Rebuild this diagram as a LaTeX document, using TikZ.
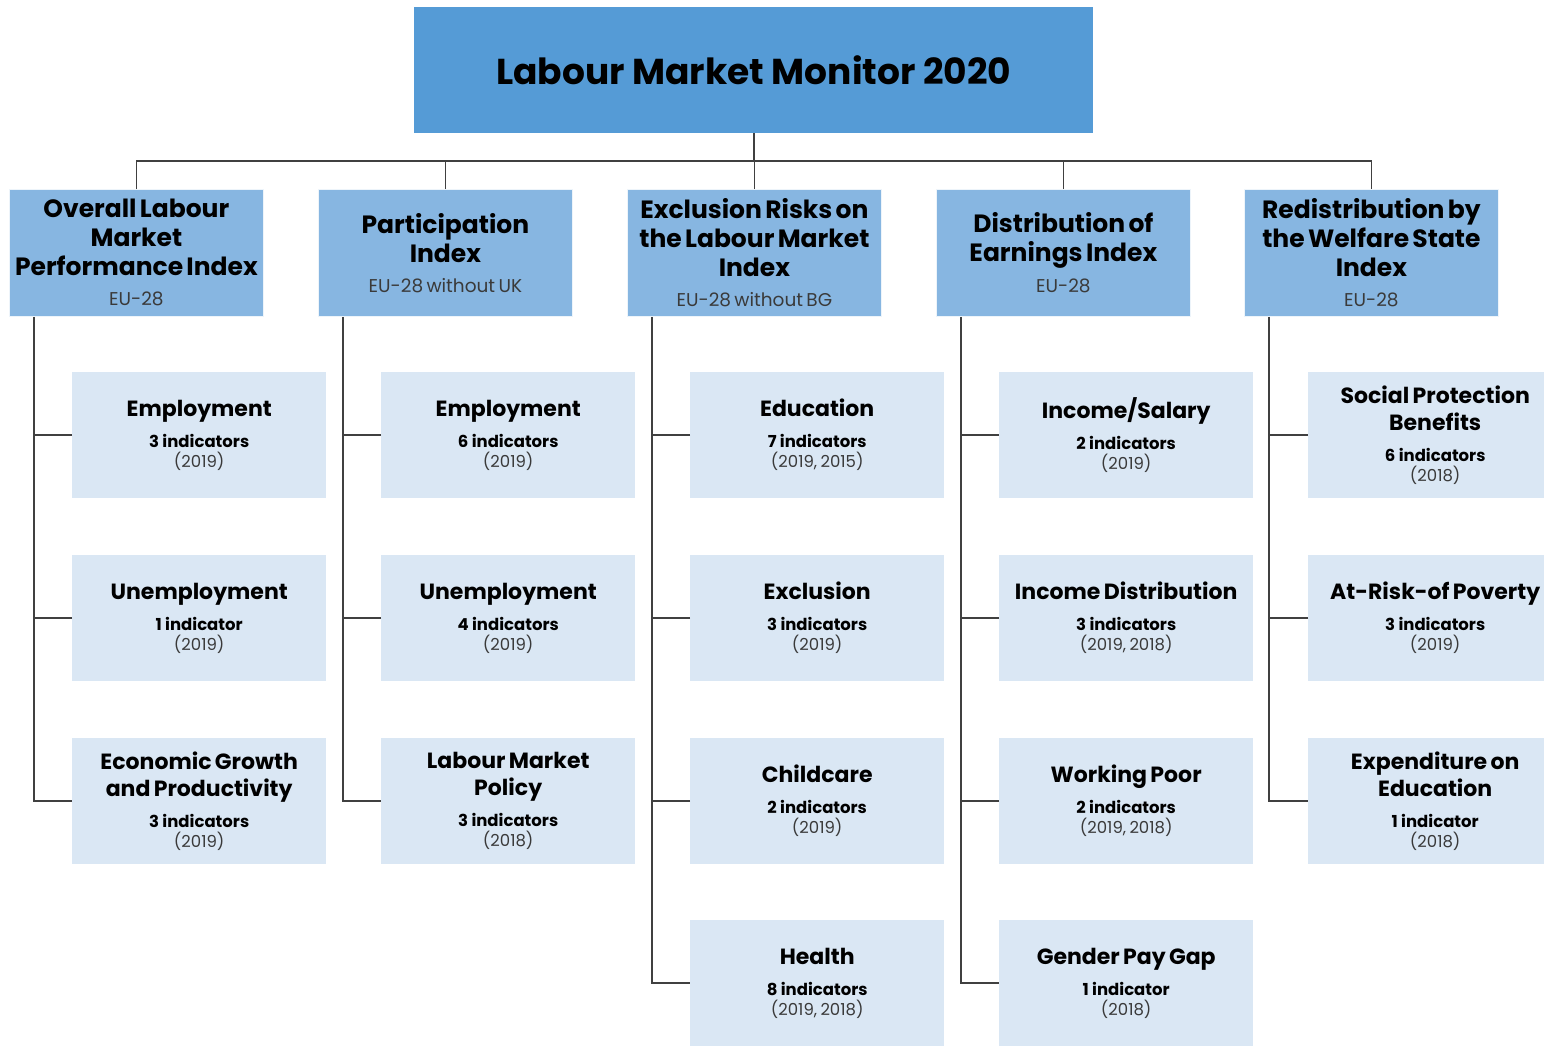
\documentclass[tikz,border=0pt]{standalone}
\usepackage{fontspec}
\setmainfont{Poppins}
\definecolor{topc}{HTML}{559BD6}
\definecolor{idxc}{HTML}{87B6E1}
\definecolor{subc}{HTML}{DAE7F4}
\definecolor{linec}{HTML}{404040}
\definecolor{greyt}{HTML}{3A3A3A}
\newcommand\idxtext[2]{{\fontsize{25}{29}\selectfont\bfseries #1\par}\vspace{10pt}{\fontsize{18.5}{20}\selectfont\color{greyt}#2\par}}
\newcommand\subtext[3]{{\fontsize{22}{27}\selectfont\bfseries #1\par}\vspace{8pt}{\fontsize{16.5}{23}\selectfont\bfseries #2\par}{\fontsize{16.5}{20}\selectfont\color{greyt}#3\par}}
\begin{document}
\begin{tikzpicture}[x=1pt,y=-1pt,
  topbox/.style={fill=topc,minimum width=679pt,minimum height=126pt,inner sep=0pt,anchor=north west,font=\fontsize{36}{40}\selectfont\bfseries},
  idxbox/.style={fill=idxc,draw=white!85!idxc,line width=0.8pt,minimum width=254pt,minimum height=127pt,inner sep=0pt,anchor=north west,text width=252pt,align=center},
  subbox/.style={fill=subc,minimum width=254pt,minimum height=126pt,inner sep=0pt,anchor=north west,text width=250pt,align=center},
  conn/.style={draw=linec,line width=1.6pt}]
\useasboundingbox (0,0) rectangle (1544,1045);
\clip (0,0) rectangle (1544,1045);
\node[topbox] (top) at (414,7) {Labour Market Monitor 2020};
\node[idxbox] (i1) at (9,189) {\idxtext{Overall Labour\\Market\\Performance Index}{EU-28}};
\node[idxbox] (i2) at (318,189) {\idxtext{Participation\\Index}{EU-28 without UK}};
\node[idxbox] (i3) at (627,189) {\idxtext{Exclusion Risks on\\the Labour Market\\Index}{EU-28 without BG}};
\node[idxbox] (i4) at (936,189) {\idxtext{Distribution of\\Earnings Index}{EU-28}};
\node[idxbox] (i5) at (1244,189) {\idxtext{Redistribution by\\the Welfare State\\Index}{EU-28}};
% children column 1
\node[subbox] (c11) at (72,372) {\subtext{Employment}{3 indicators}{(2019)}};
\node[subbox] (c12) at (72,555) {\subtext{Unemployment}{1 indicator}{(2019)}};
\node[subbox] (c13) at (72,738) {\subtext{Economic Growth\\and Productivity}{3 indicators}{(2019)}};
% column 2
\node[subbox] (c21) at (381,372) {\subtext{Employment}{6 indicators}{(2019)}};
\node[subbox] (c22) at (381,555) {\subtext{Unemployment}{4 indicators}{(2019)}};
\node[subbox] (c23) at (381,738) {\subtext{Labour Market\\Policy}{3 indicators}{(2018)}};
% column 3
\node[subbox] (c31) at (690,372) {\subtext{Education}{7 indicators}{(2019, 2015)}};
\node[subbox] (c32) at (690,555) {\subtext{Exclusion}{3 indicators}{(2019)}};
\node[subbox] (c33) at (690,738) {\subtext{Childcare}{2 indicators}{(2019)}};
\node[subbox] (c34) at (690,920) {\subtext{Health}{8 indicators}{(2019, 2018)}};
% column 4
\node[subbox] (c41) at (999,372) {\subtext{Income/Salary}{2 indicators}{(2019)}};
\node[subbox] (c42) at (999,555) {\subtext{Income Distribution}{3 indicators}{(2019, 2018)}};
\node[subbox] (c43) at (999,738) {\subtext{Working Poor}{2 indicators}{(2019, 2018)}};
\node[subbox] (c44) at (999,920) {\subtext{Gender Pay Gap}{1 indicator}{(2018)}};
% column 5
\node[subbox] (c51) at (1308,372) {\subtext{Social Protection\\Benefits}{6 indicators}{(2018)}};
\node[subbox] (c52) at (1308,555) {\subtext{At-Risk-of Poverty}{3 indicators}{(2019)}};
\node[subbox] (c53) at (1308,738) {\subtext{Expenditure on\\Education}{1 indicator}{(2018)}};
% bus
\coordinate (bus) at (753,161);
\draw[conn] (top.south) -- (top.south |- bus);
\draw[conn] (i1.north) |- (bus) -| (i5.north);
\foreach \n in {i2,i3,i4}{\draw[conn] (\n.north) -- (\n.north |- bus);}
% spines
\foreach \c/\last/\list in {1/3/{1,2},2/3/{1,2},3/4/{1,2,3},4/4/{1,2,3},5/3/{1,2}}{
  \coordinate (s\c) at ([xshift=25pt]i\c.south west);
  \draw[conn] (s\c) |- (c\c\last.west);
  \foreach \r in \list {\draw[conn] (c\c\r.west) -- (c\c\r.west -| s\c);}
}
\end{tikzpicture}
\end{document}
